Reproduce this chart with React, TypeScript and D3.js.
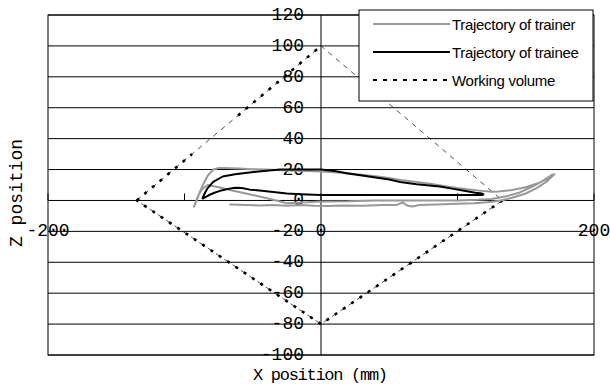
import React from "react";
import * as d3 from "d3";

// ---- data ----
const yTicks = [-100, -80, -60, -40, -20, 0, 20, 40, 60, 80, 100, 120];
const xTicks = [-200, -100, 0, 100, 200];
const xTickLabels = [-200, 0, 200];

const workingVolumeX = [-135, 0, 133, 0, -135];
const workingVolumeZ = [0, 100, 0, -80, 0];

const trainerX = [
  -67, -55, -45, -35, -25, -15, -5, 5, 15, 30, 45, 55, 60, 63, 67, 72, 85, 100, 112, 122, 132, 140, 150, 158, 165, 171,
  168, 160, 150, 140, 130, 125, 118, 110, 100, 90, 80, 70, 60, 50, 40, 30, 20, 10, 0, -10, -20, -30, -40, -50, -60, -70, -75, -79, -83, -86, -89, -91, -93,
  -90, -87, -83, -75, -65, -55, -45, -35, -25, -10, 0, 20, 40, 60, 80, 100, 115, 125, 135, 145, 155, 163, 170,
];
const trainerZ = [
  -2.6, -3, -3.2, -3, -3.5, -3, -3.4, -3.6, -3.2, -3.5, -3, -3, -1.3, -3.2, -3.9, -3, -2.6, -2.2, -1.8, -1.2, 0, 1.8, 4.5, 8, 12, 17,
  15, 11.5, 8.5, 6.8, 5.8, 5.6, 6.2, 7, 8, 9.3, 10.8, 12, 13, 14.5, 15.7, 16.7, 17.5, 18.2, 18.8, 19, 19.3, 19.6, 20, 20.2, 20.6, 21, 21, 20, 16, 11, 5, 0, -4,
  3, 7.5, 10, 8.5, 6.5, 4.5, 2.5, 0.5, -1.8, -1.2, -0.6, -0.5, 0, 0, 0, 0, 0.4, 1, 2.5, 5, 9, 13, 17,
];

const traineeX = [
  -87, -85, -83, -79, -72, -63, -54, -42, -30, -15, 0, 10, 20, 35, 50, 58, 70, 87, 97, 107, 113, 118, 119,
  118, 100, 80, 60, 40, 20, 0, -15, -25, -35, -45, -52, -58, -63, -68, -73, -78, -82, -85, -87,
];
const traineeZ = [
  1, 5, 8, 12, 15.5, 17, 18, 19, 20, 20, 20, 19, 17.5, 15.5, 13.5, 12, 10.5, 9, 7.5, 6, 5, 4.5, 4,
  3.5, 3.5, 3.5, 3.5, 3.5, 3.5, 3.5, 4, 4.5, 5.5, 6.5, 7, 8, 8.2, 7.5, 6.5, 5, 3.5, 2, 1,
];

const legendLabels = ["Trajectory of trainer", "Trajectory of trainee", "Working volume"];

// ---- layout ----
const W = 610;
const H = 386;
const left = 48;
const right = 594;
const top = 15;
const bottom = 355;
const mono = "'Liberation Mono', 'DejaVu Sans Mono', monospace";
const sans = "'Liberation Sans', Arial, sans-serif";

export default function App() {
  const x = d3.scaleLinear().domain([-200, 200]).range([left, right]);
  const y = d3.scaleLinear().domain([-100, 120]).range([bottom, top]);

  const line = d3
    .line<[number, number]>()
    .x((d) => x(d[0]))
    .y((d) => y(d[1]));

  const trainer = trainerX.map((v, i) => [v, trainerZ[i]] as [number, number]);
  const trainee = traineeX.map((v, i) => [v, traineeZ[i]] as [number, number]);
  const wv = workingVolumeX.map((v, i) => [v, workingVolumeZ[i]] as [number, number]);

  // thick dotted portions of each diamond edge (fractions along the edge)
  const thickParts: [number, number][][] = [
    [[0, 0.3], [0.55, 1]],
    [],
    [[0, 1]],
    [[0, 1]],
  ];
  const thickSegs: [number, number][][] = [];
  for (let e = 0; e < wv.length - 1; e++) {
    const a = wv[e];
    const b = wv[e + 1];
    for (const [t0, t1] of thickParts[e]) {
      const ix = d3.interpolateNumber(a[0], b[0]);
      const iz = d3.interpolateNumber(a[1], b[1]);
      thickSegs.push([
        [ix(t0), iz(t0)],
        [ix(t1), iz(t1)],
      ]);
    }
  }

  const x0 = x(0);
  const y0 = y(0);

  const lgX = 359;
  const lgY = 10;
  const lgW = 234;
  const lgH = 91;
  const rowY = [24, 52, 80];

  return (
    <svg
      width={W}
      height={H}
      style={{ position: "absolute", left: 0, top: 0, background: "#fff" }}
    >
      <rect x={0} y={0} width={W} height={H} fill="#fff" />
      {/* gridlines */}
      {yTicks.map((t) => (
        <line key={"g" + t} x1={left} x2={right} y1={y(t)} y2={y(t)} stroke="#000" strokeWidth={1} />
      ))}
      <rect x={left} y={top} width={right - left} height={bottom - top} fill="none" stroke="#000" strokeWidth={1} />
      {/* y axis */}
      <line x1={x0} x2={x0} y1={top} y2={bottom} stroke="#000" strokeWidth={1} />
      {/* x ticks */}
      {xTicks.map((t) => (
        <line key={"xt" + t} x1={x(t)} x2={x(t)} y1={y0} y2={y0 - 7} stroke="#000" strokeWidth={1} />
      ))}
      {/* y tick labels */}
      {yTicks.map((t) => (
        <text
          key={"yl" + t}
          x={x0 - 17}
          y={y(t)}
          textAnchor="end"
          dominantBaseline="central"
          fontFamily={mono}
          fontSize={18}
          fill="#000"
        >
          {String(t)}
        </text>
      ))}
      {/* x tick labels */}
      {xTickLabels.map((t) => (
        <text
          key={"xl" + t}
          x={x(t)}
          y={y(-20)}
          textAnchor="middle"
          dominantBaseline="central"
          fontFamily={mono}
          fontSize={18}
          fill="#000"
        >
          {String(t)}
        </text>
      ))}

      {/* working volume */}
      <path d={line(wv) || ""} fill="none" stroke="#222" strokeWidth={0.8} strokeDasharray="5 5" />
      {thickSegs.map((s, i) => (
        <path key={"wv" + i} d={line(s) || ""} fill="none" stroke="#000" strokeWidth={2.6} strokeDasharray="3 7" />
      ))}

      {/* trajectories */}
      <path d={line(trainer) || ""} fill="none" stroke="#999" strokeWidth={2} strokeLinejoin="round" />
      <path d={line(trainee) || ""} fill="none" stroke="#000" strokeWidth={2} strokeLinejoin="round" />

      {/* axis titles */}
      <text
        x={320.5}
        y={380}
        textAnchor="middle"
        fontFamily={mono}
        fontSize={17}
        textLength={135}
        lengthAdjust="spacing"
        fill="#000"
      >
        X position (mm)
      </text>
      <text
        transform="translate(22,193) rotate(-90)"
        textAnchor="middle"
        fontFamily={mono}
        fontSize={18}
        fill="#000"
      >
        Z position
      </text>

      {/* legend */}
      <rect x={lgX} y={lgY} width={lgW} height={lgH} fill="#fff" stroke="#000" strokeWidth={1} />
      <line x1={373} x2={450} y1={rowY[0]} y2={rowY[0]} stroke="#999" strokeWidth={2} />
      <line x1={373} x2={450} y1={rowY[1]} y2={rowY[1]} stroke="#000" strokeWidth={2} />
      <line x1={373} x2={450} y1={rowY[2]} y2={rowY[2]} stroke="#000" strokeWidth={2} strokeDasharray="4 6" />
      {legendLabels.map((l, i) => (
        <text
          key={l}
          x={452}
          y={rowY[i]}
          dominantBaseline="central"
          fontFamily={sans}
          fontSize={15}
          letterSpacing={-0.3}
          fill="#000"
        >
          {l}
        </text>
      ))}
    </svg>
  );
}
